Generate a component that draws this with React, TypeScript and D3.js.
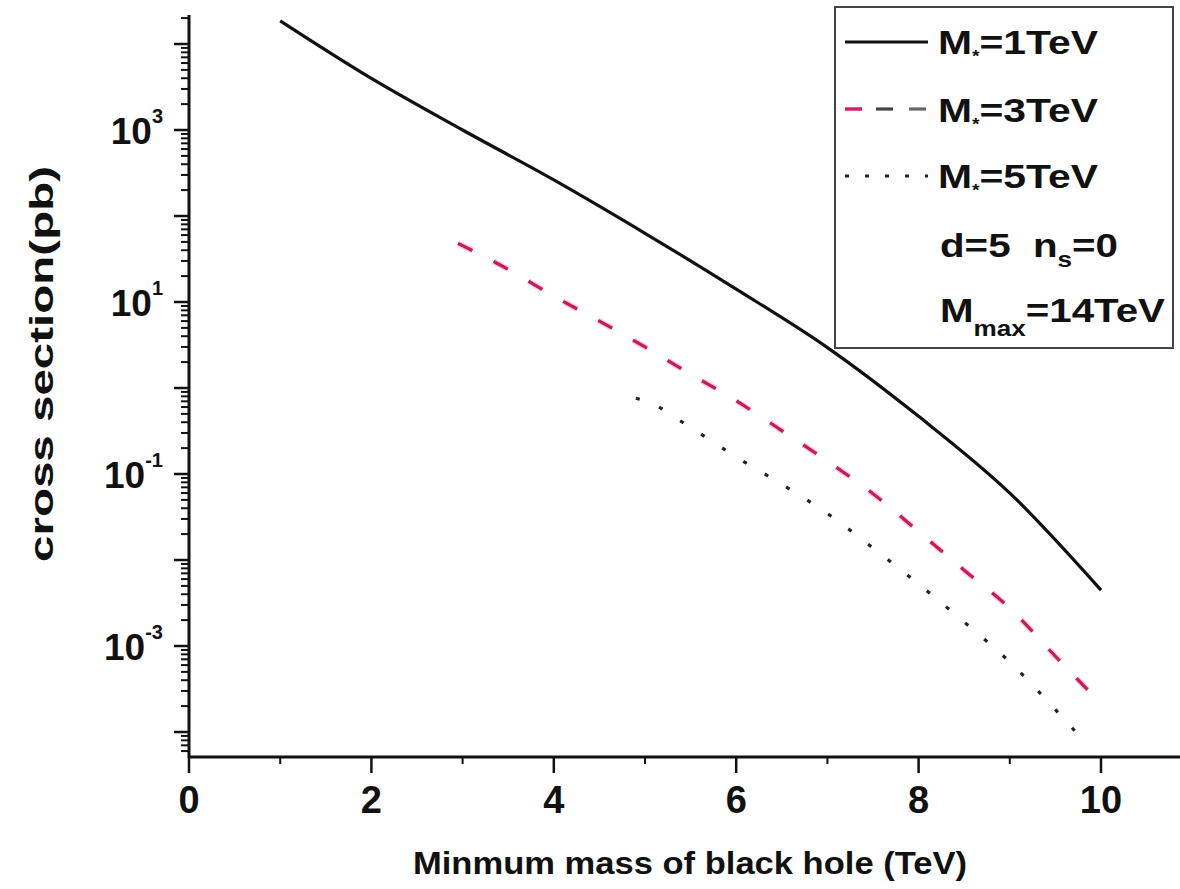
import React from 'react';
import * as d3 from 'd3';

// ---- data ----
const massM1 = [1, 2, 3, 4, 5, 6, 7, 8, 9, 10];
const sigmaM1 = [18600, 3980, 1000, 263, 63, 14.1, 2.95, 0.468, 0.06, 0.00447];

const massM3 = [2.95, 3.5, 4, 4.5, 5, 5.5, 6, 6.5, 7, 7.5, 8, 8.5, 9, 9.5, 10];
const sigmaM3 = [48, 24, 11.7, 6.0, 3.0, 1.45, 0.71, 0.32, 0.141, 0.059, 0.0214, 0.0076, 0.00275, 0.00076, 0.000214];

const massM5 = [4.9, 5, 5.5, 6, 6.5, 7, 7.5, 8, 8.5, 9, 9.5, 9.85];
const sigmaM5 = [0.76, 0.71, 0.347, 0.158, 0.076, 0.0347, 0.0138, 0.00525, 0.0019, 0.00065, 0.000182, 0.0000708];

const xTickValues = [0, 2, 4, 6, 8, 10];
const xMinorValues = [1, 3, 5, 7, 9];
const yLabelExponents = [3, 1, -1, -3];
const decades = [-5, -4, -3, -2, -1, 0, 1, 2, 3, 4];

const FONT = 'Arial, "Liberation Sans", Helvetica, sans-serif';

export default function App() {
  const W = 1180;
  const H = 889;
  const x = d3.scaleLinear().domain([0, 10]).range([189, 1101]);
  const y = d3.scaleLog().domain([1e-4, 1e4]).range([732, 44]);
  const yTop = 15;
  const yBottom = 757;

  const line = d3
    .line<[number, number]>()
    .x((d) => x(d[0]))
    .y((d) => y(d[1]))
    .curve(d3.curveMonotoneX);

  const pts = (xs: number[], ys: number[]) => xs.map((v, i) => [v, ys[i]] as [number, number]);

  const minorY: number[] = [];
  const majorY: number[] = [];
  decades.forEach((d) => {
    for (let k = 1; k <= 9; k++) {
      const v = k * Math.pow(10, d);
      const py = y(v);
      if (py < yTop - 0.5 || py > yBottom + 0.5) continue;
      if (k === 1) majorY.push(v);
      else minorY.push(v);
    }
  });

  return (
    <div style={{ position: 'absolute', left: 0, top: 0, width: W, height: H, background: '#fff' }}>
      <svg width={W} height={H} viewBox={`0 0 ${W} ${H}`} style={{ display: 'block' }}>
        <rect x={0} y={0} width={W} height={H} fill="#fff" />

        {/* curves */}
        <path d={line(pts(massM1, sigmaM1)) || ''} fill="none" stroke="#111" strokeWidth={3.2} />
        <path
          d={line(pts(massM3, sigmaM3)) || ''}
          fill="none"
          stroke="#f3b6d2"
          strokeWidth={6}
          strokeDasharray="16 24"
          opacity={0.7}
        />
        <path
          d={line(pts(massM3, sigmaM3)) || ''}
          fill="none"
          stroke="#c8195c"
          strokeWidth={3.2}
          strokeDasharray="16 24"
        />
        <path
          d={line(pts(massM5, sigmaM5)) || ''}
          fill="none"
          stroke="#222"
          strokeWidth={3.2}
          strokeDasharray="4 21"
        />

        {/* y axis */}
        <line x1={189} x2={189} y1={yTop} y2={yBottom + 1} stroke="#111" strokeWidth={3} />
        {majorY.map((v) => (
          <line key={'M' + v} x1={189} x2={174} y1={y(v)} y2={y(v)} stroke="#111" strokeWidth={2.5} />
        ))}
        {minorY.map((v) => (
          <line key={'m' + v} x1={189} x2={181} y1={y(v)} y2={y(v)} stroke="#111" strokeWidth={2} />
        ))}
        {yLabelExponents.map((e) => (
          <text
            key={'yl' + e}
            x={163}
            y={y(Math.pow(10, e)) + 14}
            textAnchor="end"
            fontFamily={FONT}
            fontWeight="bold"
            fontSize={37}
            fill="#111"
          >
            <tspan>10</tspan>
            <tspan dy={-21} fontSize={20}>
              {String(e)}
            </tspan>
          </text>
        ))}

        {/* x axis */}
        <line x1={188} x2={W} y1={yBottom} y2={yBottom} stroke="#111" strokeWidth={3} />
        {xTickValues.map((v) => (
          <line key={'xt' + v} x1={x(v)} x2={x(v)} y1={yBottom} y2={yBottom + 16} stroke="#111" strokeWidth={2.5} />
        ))}
        {xMinorValues.map((v) => (
          <line key={'xm' + v} x1={x(v)} x2={x(v)} y1={yBottom} y2={yBottom + 7} stroke="#111" strokeWidth={2} />
        ))}
        {xTickValues.map((v) => (
          <text
            key={'xl' + v}
            x={x(v)}
            y={813}
            textAnchor="middle"
            fontFamily={FONT}
            fontWeight="bold"
            fontSize={38}
            fill="#111"
          >
            {String(v)}
          </text>
        ))}

        {/* axis titles */}
        <text
          x={413}
          y={874}
          fontFamily={FONT}
          fontWeight="bold"
          fontSize={32}
          fill="#111"
          textLength={554}
          lengthAdjust="spacingAndGlyphs"
        >
          Minmum mass of black hole (TeV)
        </text>
        <text
          transform="translate(53,562) rotate(-90)"
          x={0}
          y={0}
          fontFamily={FONT}
          fontWeight="bold"
          fontSize={33}
          fill="#111"
          textLength={396}
          lengthAdjust="spacingAndGlyphs"
        >
          cross section(pb)
        </text>

        {/* legend */}
        <rect x={835} y={7} width={338} height={341} fill="#fff" stroke="#444" strokeWidth={2} />
        <line x1={845} x2={928} y1={42} y2={42} stroke="#111" strokeWidth={3.2} />
        <line x1={845} x2={862} y1={109} y2={109} stroke="#d0206a" strokeWidth={3.5} />
        <line x1={876} x2={893} y1={109} y2={109} stroke="#444" strokeWidth={3.2} />
        <line x1={909} x2={926} y1={109} y2={109} stroke="#666" strokeWidth={3.2} />
        <line x1={845} x2={928} y1={176} y2={176} stroke="#222" strokeWidth={3.2} strokeDasharray="4 16" />

        <g fontFamily={FONT} fontWeight="bold" fontSize={34} fill="#111">
          <text x={938} y={54} textLength={160} lengthAdjust="spacingAndGlyphs">
            <tspan>M</tspan>
            <tspan dy={8} fontSize={16}>*</tspan>
            <tspan dy={-8}>=1TeV</tspan>
          </text>
          <text x={938} y={122} textLength={160} lengthAdjust="spacingAndGlyphs">
            <tspan>M</tspan>
            <tspan dy={8} fontSize={16}>*</tspan>
            <tspan dy={-8}>=3TeV</tspan>
          </text>
          <text x={938} y={188} textLength={160} lengthAdjust="spacingAndGlyphs">
            <tspan>M</tspan>
            <tspan dy={8} fontSize={16}>*</tspan>
            <tspan dy={-8}>=5TeV</tspan>
          </text>
          <text x={940} y={257} textLength={178} lengthAdjust="spacingAndGlyphs" style={{ whiteSpace: 'pre' }}>
            <tspan>{'d=5  n'}</tspan>
            <tspan dy={10} fontSize={22}>s</tspan>
            <tspan dy={-10}>=0</tspan>
          </text>
          <text x={940} y={322} textLength={225} lengthAdjust="spacingAndGlyphs">
            <tspan>M</tspan>
            <tspan dy={14} fontSize={22}>max</tspan>
            <tspan dy={-14}>=14TeV</tspan>
          </text>
        </g>
      </svg>
    </div>
  );
}
